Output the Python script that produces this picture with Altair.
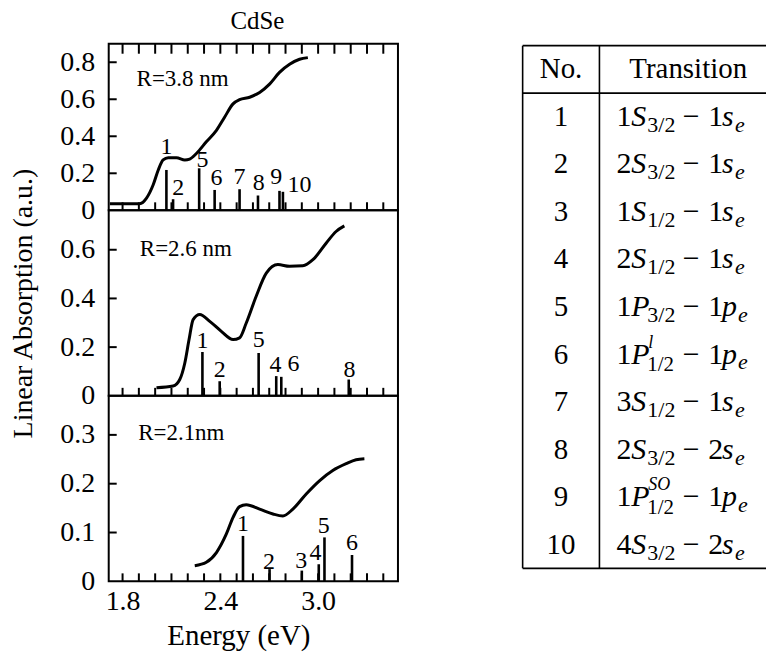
import altair as alt
import pandas as pd

FONT = "Liberation Serif"

# ---------------- data ----------------
x_tick_values = [1.8, 1.9, 2.0, 2.1, 2.2, 2.3, 2.4, 2.5, 2.6, 2.7, 2.8, 2.9, 3.0, 3.1, 3.2, 3.3, 3.4]
x_label_values = [1.8, 2.4, 3.0]

# Panel 1: R = 3.8 nm
p1_E = [1.722, 1.906, 1.947, 1.988, 2.019, 2.049, 2.08, 2.131, 2.182, 2.212, 2.253, 2.314,
        2.376, 2.426, 2.478, 2.518, 2.58, 2.641, 2.702, 2.763, 2.825, 2.886, 2.937]
p1_A = [0.036, 0.036, 0.066, 0.138, 0.218, 0.272, 0.284, 0.284, 0.272, 0.277, 0.307, 0.37,
        0.432, 0.503, 0.575, 0.598, 0.611, 0.637, 0.682, 0.745, 0.789, 0.816, 0.825]
p1_tr_no = ["1", "2", "5", "6", "7", "8", "9", "10"]
p1_tr_E = [2.069, 2.11, 2.27, 2.365, 2.518, 2.631, 2.763, 2.784]
p1_tr_A = [0.218, 0.06, 0.227, 0.11, 0.114, 0.08, 0.105, 0.1]
p1_lab_E = [2.069, 2.141, 2.29, 2.376, 2.518, 2.635, 2.743, 2.886]
p1_lab_A = [0.343, 0.12, 0.27, 0.173, 0.182, 0.146, 0.182, 0.138]
p1_yticks = [0.2, 0.4, 0.6, 0.8]
p1_ylabels = [0, 0.2, 0.4, 0.6, 0.8]

# Panel 2: R = 2.6 nm
p2_E = [2.008, 2.11, 2.151, 2.182, 2.208, 2.233, 2.274, 2.335, 2.406, 2.478, 2.518, 2.559,
        2.62, 2.682, 2.753, 2.825, 2.906, 2.968, 3.049, 3.11, 3.161]
p2_A = [0.033, 0.04, 0.067, 0.135, 0.231, 0.313, 0.334, 0.306, 0.265, 0.231, 0.238, 0.299,
        0.409, 0.504, 0.539, 0.532, 0.534, 0.559, 0.627, 0.675, 0.698]
p2_tr_no = ["1", "2", "5", "4", "6", "8"]
p2_tr_E = [2.29, 2.396, 2.635, 2.743, 2.774, 3.188]
p2_tr_A = [0.18, 0.06, 0.176, 0.081, 0.078, 0.067]
p2_lab_E = [2.29, 2.396, 2.635, 2.739, 2.849, 3.192]
p2_lab_A = [0.224, 0.108, 0.231, 0.125, 0.129, 0.108]
p2_yticks = [0.2, 0.4, 0.6]
p2_ylabels = [0, 0.2, 0.4, 0.6]

# Panel 3: R = 2.1 nm
p3_E = [2.243, 2.314, 2.376, 2.437, 2.478, 2.518, 2.559, 2.641, 2.723, 2.784, 2.845, 2.927,
        3.008, 3.09, 3.172, 3.233, 3.284]
p3_A = [0.032, 0.039, 0.059, 0.097, 0.131, 0.153, 0.157, 0.148, 0.138, 0.134, 0.148, 0.179,
        0.206, 0.227, 0.241, 0.249, 0.251]
p3_tr_no = ["1", "2", "3", "4", "5", "6"]
p3_tr_E = [2.539, 2.702, 2.9, 3.004, 3.039, 3.208]
p3_tr_A = [0.093, 0.025, 0.022, 0.035, 0.09, 0.054]
p3_lab_E = [2.539, 2.698, 2.896, 2.984, 3.035, 3.208]
p3_lab_A = [0.117, 0.039, 0.042, 0.059, 0.114, 0.078]
p3_yticks = [0.1, 0.2, 0.3]
p3_ylabels = [0, 0.1, 0.2, 0.3]

radius_text = ["R=3.8 nm", "R=2.6 nm", "R=2.1nm"]
radius_E = [1.886, 1.906, 1.896]
radius_A = [0.712, 0.601, 0.304]

# Table of transitions
tab_no = ["1", "2", "3", "4", "5", "6", "7", "8", "9", "10"]
hole_n = ["1", "2", "1", "2", "1", "1", "3", "2", "1", "4"]
hole_L = ["S", "S", "S", "S", "P", "P", "S", "S", "P", "S"]
hole_j = ["3/2", "3/2", "1/2", "1/2", "3/2", "1/2", "1/2", "3/2", "1/2", "3/2"]
hole_sup = ["", "", "", "", "", "l", "", "", "SO", ""]
el_n = ["1", "1", "1", "1", "1", "1", "1", "2", "1", "2"]
el_l = ["s", "s", "s", "s", "p", "p", "s", "s", "p", "s"]
header = ["No.", "Transition"]

# ---------------- layout ----------------
X_DOMAIN = [1.715, 3.49]
PANEL_W = 290
TICK_LEN = 8


def panel(E, A, tr_no, tr_E, tr_A, lab_E, lab_A, rtext, rE, rA, ydom, yticks, ylabels,
          height, bottom=False, top_ticks=False, ytitle=None):
    xs = alt.Scale(domain=X_DOMAIN, nice=False, zero=False)
    ys = alt.Scale(domain=ydom, nice=False, zero=False)
    if bottom:
        xaxis = alt.Axis(values=x_label_values, format=".1f", ticks=False, tickSize=0,
                         domain=False, grid=False, labelFont=FONT, labelFontSize=28,
                         labelColor="black", labelPadding=6, labelFlush=False,
                         title="Energy (eV)", titleFont=FONT, titleFontSize=29,
                         titleFontWeight="normal", titleColor="black", titlePadding=6,
                         titleX=130)
    else:
        xaxis = None
    yaxis = alt.Axis(values=ylabels, format=".1~f", ticks=False, tickSize=0, domain=False,
                     grid=False, labelFont=FONT, labelFontSize=28, labelColor="black",
                     labelPadding=14, labelFlush=False, labelOverlap=False,
                     title=ytitle, titleFont=FONT, titleFontSize=28,
                     titleFontWeight="normal", titleColor="black", titlePadding=22)

    def X(f):
        return alt.X(f, type="quantitative", scale=xs, axis=xaxis)

    def Y(f):
        return alt.Y(f, type="quantitative", scale=ys, axis=yaxis)

    df_c = pd.DataFrame({"E": E, "A": A})
    df_t = pd.DataFrame({"E": tr_E, "A": tr_A, "base": [0.0] * len(tr_E)})
    df_l = pd.DataFrame({"E": lab_E, "A": lab_A, "no": tr_no})
    df_r = pd.DataFrame({"E": [rE], "A": [rA], "t": [rtext]})
    df_xt = pd.DataFrame({"tick": x_tick_values})
    df_yt = pd.DataFrame({"tick": yticks})

    curve = alt.Chart(df_c).mark_line(color="black", strokeWidth=3, interpolate="monotone").encode(
        x=X("E"), y=Y("A"))
    trans = alt.Chart(df_t).mark_rule(color="black", strokeWidth=2.6).encode(
        x=X("E"), y=Y("A"), y2=alt.Y2("base"))
    labs = alt.Chart(df_l).mark_text(font=FONT, fontSize=24, color="black", baseline="middle").encode(
        x=X("E"), y=Y("A"), text="no:N")
    rlab = alt.Chart(df_r).mark_text(font=FONT, fontSize=23, color="black", align="left",
                                     baseline="middle").encode(x=X("E"), y=Y("A"), text="t:N")
    xt = alt.Chart(df_xt).mark_rule(color="black", strokeWidth=2).encode(
        x=X("tick"), y=alt.value(height), y2=alt.value(height - TICK_LEN))
    yt = alt.Chart(df_yt).mark_rule(color="black", strokeWidth=2).encode(
        y=Y("tick"), x=alt.value(0), x2=alt.value(TICK_LEN))
    layers = [curve, trans, labs, rlab, xt, yt]
    if top_ticks:
        xt_top = alt.Chart(df_xt).mark_rule(color="black", strokeWidth=2).encode(
            x=X("tick"), y=alt.value(0), y2=alt.value(TICK_LEN + 2))
        layers.append(xt_top)
    return alt.layer(*layers).properties(width=PANEL_W, height=height)


top = panel(p1_E, p1_A, p1_tr_no, p1_tr_E, p1_tr_A, p1_lab_E, p1_lab_A,
            radius_text[0], radius_E[0], radius_A[0], [0, 0.9], p1_yticks, p1_ylabels,
            167, top_ticks=True)
mid = panel(p2_E, p2_A, p2_tr_no, p2_tr_E, p2_tr_A, p2_lab_E, p2_lab_A,
            radius_text[1], radius_E[1], radius_A[1], [0, 0.762], p2_yticks, p2_ylabels,
            186, ytitle="Linear Absorption (a.u.)")
bot = panel(p3_E, p3_A, p3_tr_no, p3_tr_E, p3_tr_A, p3_lab_E, p3_lab_A,
            radius_text[2], radius_E[2], radius_A[2], [0, 0.38], p3_yticks, p3_ylabels,
            186, bottom=True)

left = alt.vconcat(top, mid, bot, spacing=0, bounds="flush")

# ---------------- table ----------------
TW = 244
TH = 526
TY = alt.Scale(domain=[-0.04, 11], nice=False, zero=False, reverse=True)
MATH_X = 94
COL_NO_X = 38.5
COL_TR_X = 166

df_tab = pd.DataFrame({
    "no": tab_no, "yc": [i + 1.5 for i in range(len(tab_no))],
    "hn": hole_n, "hL": hole_L, "hj": hole_j, "hs": hole_sup,
    "en": el_n, "el": el_l, "sub": ["e"] * len(tab_no), "minus": ["\u2212"] * len(tab_no),
})
df_head = pd.DataFrame({"t": header, "yc": [0.5, 0.5]})
df_h = pd.DataFrame({"y": [0, 1, 11]})
df_v = pd.DataFrame({"y0": [0], "y1": [11]})


def tY(f):
    return alt.Y(f, type="quantitative", scale=TY, axis=None)


def piece(field, xpx, size, dy=0, italic=False, align="left", data=None):
    d = df_tab if data is None else data
    return alt.Chart(d).mark_text(font=FONT, fontSize=size, color="black", align=align,
                                  baseline="middle", dy=dy,
                                  fontStyle="italic" if italic else "normal").encode(
        x=alt.value(xpx), y=tY("yc"), text=f"{field}:N")


no_sup = df_tab[df_tab["hs"] == ""]
with_sup = df_tab[df_tab["hs"] != ""]
el_s = df_tab[df_tab["el"] == "s"]
el_p = df_tab[df_tab["el"] == "p"]

t_layers = [
    alt.Chart(df_h).mark_rule(color="black", strokeWidth=1.6).encode(
        y=tY("y"), x=alt.value(0), x2=alt.value(TW)),
    alt.Chart(df_v).mark_rule(color="black", strokeWidth=1.6).encode(
        y=tY("y0"), y2=alt.Y2("y1"), x=alt.value(0)),
    alt.Chart(df_v).mark_rule(color="black", strokeWidth=1.6).encode(
        y=tY("y0"), y2=alt.Y2("y1"), x=alt.value(77)),
    alt.Chart(df_head.iloc[[0]]).mark_text(font=FONT, fontSize=29, color="black", align="center",
                                          baseline="middle").encode(
        x=alt.value(COL_NO_X), y=tY("yc"), text="t:N"),
    alt.Chart(df_head.iloc[[1]]).mark_text(font=FONT, fontSize=29, color="black", align="center",
                                          baseline="middle").encode(
        x=alt.value(COL_TR_X), y=tY("yc"), text="t:N"),
    piece("no", COL_NO_X, 29, align="center"),
    piece("hn", MATH_X, 30),
    piece("hL", MATH_X + 15, 30, italic=True),
    piece("hj", MATH_X + 31, 22, dy=8, data=no_sup),
    piece("hj", MATH_X + 31, 21, dy=11, data=with_sup),
    piece("hs", MATH_X + 32, 18, dy=-12, italic=True, data=with_sup),
    piece("minus", MATH_X + 75, 30, align="center"),
    piece("en", MATH_X + 92, 30),
    piece("el", MATH_X + 106, 30, italic=True),
    piece("sub", MATH_X + 119, 22, dy=8, italic=True, data=el_s),
    piece("sub", MATH_X + 122, 22, dy=8, italic=True, data=el_p),
]
table = alt.layer(*t_layers).properties(width=TW, height=TH,
                                        view=alt.ViewBackground(stroke="transparent"))

chart = alt.hconcat(left, table, spacing=122).properties(
    title=alt.TitleParams("CdSe", font=FONT, fontSize=25, fontWeight="normal", anchor="start",
                          dx=222, offset=8, color="black"),
    padding={"left": 8, "top": 8, "right": 0, "bottom": 4},
    background="white",
).configure_view(stroke="black", strokeWidth=2)

chart.save("out.html", embed_options={"renderer": "svg", "actions": False})
